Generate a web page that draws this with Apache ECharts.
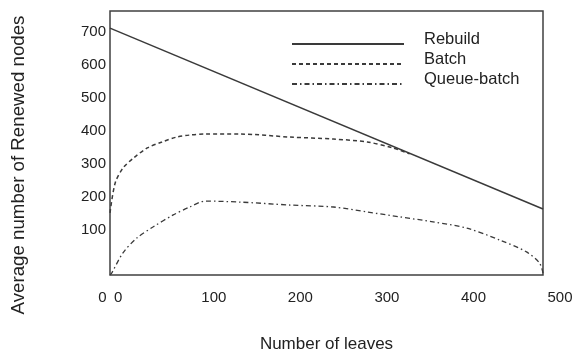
<!DOCTYPE html>
<html>
<head>
<meta charset="utf-8">
<script src="https://cdn.jsdelivr.net/npm/echarts@6/dist/echarts.min.js"></script>
<style>
html,body{margin:0;padding:0;background:#fff;}
#chart{width:575px;height:354px;}
</style>
</head>
<body>
<div id="chart"></div>
<script>
// Tick labels
const leafTicks = [0, 100, 200, 300, 400, 500];
const nodeTicks = [100, 200, 300, 400, 500, 600, 700];

// Series names
const seriesNames = ['Rebuild', 'Batch', 'Queue-batch'];

// Rebuild (straight line)
const rebuildX = [-20, 480];
const rebuildY = [712, 164];

// Batch
const batchX = [-20, -14, -5, 7, 23, 40, 57, 72, 90, 130, 188, 238, 277, 307, 326];
const batchY = [152, 243, 288, 318, 349, 367, 382, 388, 391, 391, 382, 376, 367, 349, 331];

// Queue-batch
const queueX = [-20, -18, -5, 11, 30, 53, 72, 90, 130, 188, 238, 277, 315, 353, 392, 430, 461, 476, 480];
const queueY = [-36, -30, 31, 76, 110, 146, 170, 188, 185, 176, 170, 155, 140, 125, 106, 70, 34, 0, -30];

const zip = (xs, ys) => xs.map((x, i) => [x, ys[i]]);
const FONT = '"Liberation Sans", Arial, sans-serif';
const TXT = '#222';

const chart = echarts.init(document.getElementById('chart'));
chart.setOption({
  animation: false,
  backgroundColor: '#fff',
  textStyle: { fontFamily: FONT },
  grid: [
    { left: 110, right: 32, top: 11, bottom: 79, show: true, borderColor: '#404040', borderWidth: 1.5, backgroundColor: 'transparent', outerBoundsMode: 'none', containLabel: false },
    { left: 110, width: 450, top: 283, height: 1, show: false, outerBoundsMode: 'none', containLabel: false }
  ],
  legend: {
    orient: 'vertical',
    left: 291,
    top: 31,
    itemWidth: 112,
    itemHeight: 10,
    itemGap: 3,
    padding: 0,
    itemStyle: { color: 'transparent', borderColor: 'transparent', borderWidth: 0 },
    formatter: '{t|{name}}',
    textStyle: {
      fontFamily: FONT, fontSize: 16.5, color: TXT, padding: [0, 0, 0, 15],
      rich: { t: { fontFamily: FONT, fontSize: 16.5, color: TXT, padding: [0, 0, 9, 0] } }
    },
    data: seriesNames
  },
  xAxis: [
    {
      gridIndex: 0, type: 'value', min: -20, max: 480,
      axisLine: { show: false }, axisTick: { show: false }, axisLabel: { show: false }, splitLine: { show: false },
      name: 'Number of leaves', nameLocation: 'middle', nameGap: 61,
      nameTextStyle: { fontFamily: FONT, fontSize: 17, color: TXT }
    },
    {
      gridIndex: 1, type: 'value', min: -20, max: 500,
      axisLine: { show: false }, axisTick: { show: false }, splitLine: { show: false },
      axisLabel: {
        customValues: leafTicks,
        margin: 6,
        fontFamily: FONT, fontSize: 15, color: TXT,
        formatter: v => v === 0 ? '{z|0\u20020}' : String(v),
        rich: { z: { fontFamily: FONT, fontSize: 15, color: TXT, padding: [0, 34, 0, 0] } }
      }
    }
  ],
  yAxis: [
    {
      gridIndex: 0, type: 'value', min: -36, max: 764,
      axisLine: { show: false }, axisTick: { show: false }, splitLine: { show: false },
      axisLabel: { customValues: nodeTicks, margin: 4, fontFamily: FONT, fontSize: 15, color: TXT },
      name: 'Average number of Renewed nodes', nameLocation: 'middle', nameGap: 82, nameRotate: 90,
      nameTextStyle: { fontFamily: FONT, fontSize: 18.7, color: TXT, padding: [0, 44, 0, 0] }
    },
    { gridIndex: 1, type: 'value', show: false, min: 0, max: 1 }
  ],
  series: [
    {
      name: seriesNames[0], type: 'line', xAxisIndex: 0, yAxisIndex: 0,
      data: zip(rebuildX, rebuildY), symbol: 'none', showSymbol: false, clip: true,
      lineStyle: { color: '#3a3a3a', width: 1.5, type: 'solid' }, itemStyle: { color: '#3a3a3a' }
    },
    {
      name: seriesNames[1], type: 'line', xAxisIndex: 0, yAxisIndex: 0,
      data: zip(batchX, batchY), symbol: 'none', showSymbol: false, smooth: 0.3, clip: true,
      lineStyle: { color: '#3a3a3a', width: 1.5, type: [4, 3] }, itemStyle: { color: '#3a3a3a' }
    },
    {
      name: seriesNames[2], type: 'line', xAxisIndex: 0, yAxisIndex: 0,
      data: zip(queueX, queueY), symbol: 'none', showSymbol: false, smooth: 0.3, clip: true,
      lineStyle: { color: '#3a3a3a', width: 1.3, type: [5, 3, 1.5, 3] }, itemStyle: { color: '#3a3a3a' }
    }
  ]
});
</script>
</body>
</html>
